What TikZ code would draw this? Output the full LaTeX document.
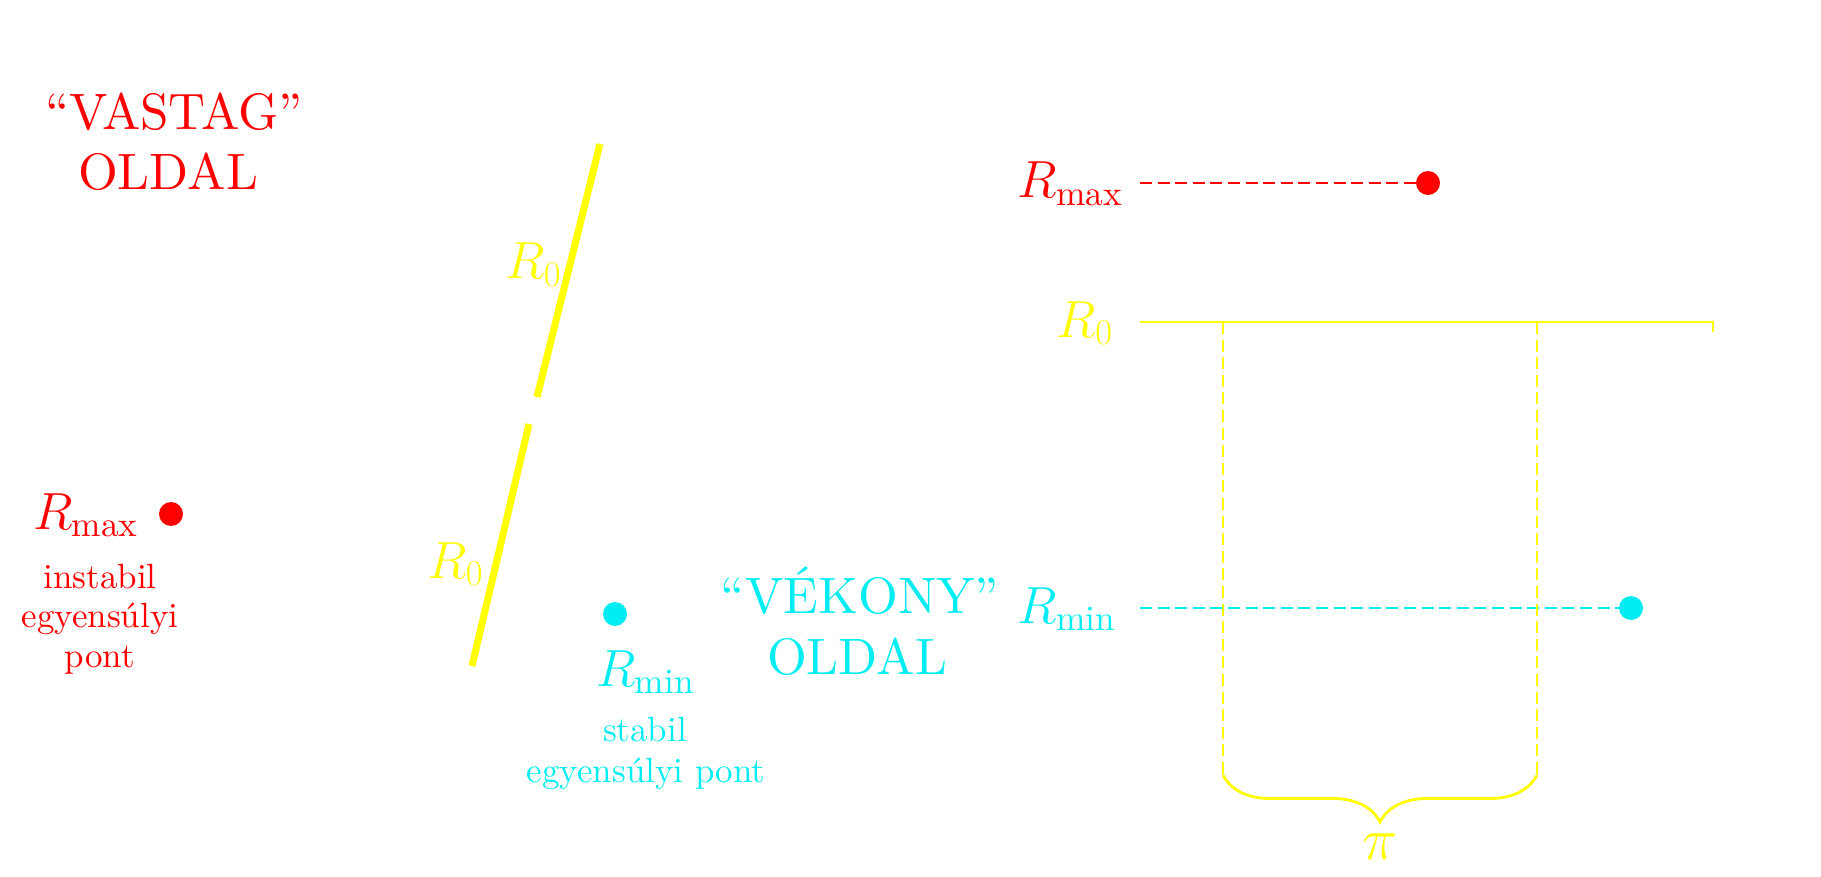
\documentclass[tikz,border=0pt]{standalone}
\usepackage{fontspec}
\setmainfont{lmroman10-regular.otf}
\usetikzlibrary{decorations.pathreplacing}
\definecolor{cred}{RGB}{255,0,0}
\definecolor{cyel}{RGB}{255,255,0}
\definecolor{ccyan}{RGB}{0,238,242}
\newcommand{\mlabtxt}[1]{\scalebox{1.05}{$#1$}}
\begin{document}
\begin{tikzpicture}[x=0.5pt,y=-0.5pt,
  every node/.style={inner sep=0pt, outer sep=0pt},
  title/.style={font=\fontsize{25.6}{30}\selectfont, anchor=base},
  mlabel/.style={font=\fontsize{24}{29}\selectfont},
  small/.style={font=\fontsize{17.5}{20.5}\selectfont, anchor=base},
  dot/.style={circle, fill, minimum size=12pt},
  guide/.style={dash pattern=on 6pt off 2.8pt, line width=1.3pt},
  bar/.style={cyel, line width=3.5pt},
]
\useasboundingbox (0,0) rectangle (1821,877);

% titles
\node[title, text=cred] (vastag) at (174,130) {“VASTAG”};
\node[title, text=cred] (oldalL) at (168,190) {OLDAL};
\node[title, text=ccyan] (vekony) at (860,613) {“VÉKONY”};
\node[title, text=ccyan] (oldalR) at (857,674) {OLDAL};

% left R_max with dot
\node[mlabel, anchor=base west, text=cred] (rmaxL) at (33,529) {\mlabtxt{R_{\max}}};
\node[dot, fill=cred] (dotmaxL) at (171,514) {};
\node[small, text=cred] (instabil) at (100,588) {instabil};
\node[small, text=cred] (egyL) at (100,627) {egyensúlyi};
\node[small, text=cred] (pontL) at (100,667) {pont};

% slanted yellow bars
\coordinate (a1) at (600,144);
\coordinate (a2) at (537,397);
\coordinate (b1) at (529,424);
\coordinate (b2) at (472,666);
\draw[bar] (a1) -- (a2);
\draw[bar] (b1) -- (b2);
\node[mlabel, anchor=base west, text=cyel] (r0up) at (505,279) {\mlabtxt{R_0}};
\node[mlabel, anchor=base west, text=cyel] (r0low) at (427,578) {\mlabtxt{R_0}};

% left R_min with dot
\node[dot, fill=ccyan] (dotminL) at (615,614) {};
\node[mlabel, anchor=base west, text=ccyan] (rminL) at (596,686) {\mlabtxt{R_{\min}}};
\node[small, text=ccyan] (stabil) at (645,741) {stabil};
\node[small, text=ccyan] (egyR) at (646,782) {egyensúlyi pont};

% right diagram
\node[mlabel, anchor=base east, text=cred] (rmaxR) at (1123,198) {\mlabtxt{R_{\max}}};
\node[mlabel, anchor=base east, text=cyel] (r0R) at (1113,337) {\mlabtxt{R_0}};
\node[mlabel, anchor=base east, text=ccyan] (rminR) at (1116,623) {\mlabtxt{R_{\min}}};

\node[dot, fill=cred] (dotmaxR) at (1428,183) {};
\node[dot, fill=ccyan] (dotminR) at (1631,608) {};
\coordinate (smax) at (1140,183);
\coordinate (smin) at (1140,608);
\draw[guide, cred] (smax) -- (dotmaxR.west);
\draw[guide, ccyan] (smin) -- (dotminR.west);

\coordinate (r0s) at (1140,322);
\coordinate (r0e) at (1713,322);
\coordinate (r0t) at (1713,332);
\draw[cyel, line width=1.3pt] (r0s) -- (r0e) -- (r0t);

\coordinate (v1t) at (1223,322);
\coordinate (v1b) at (1223,777);
\coordinate (v2t) at (1537,322);
\coordinate (v2b) at (1537,777);
\draw[guide, cyel] (v1t) -- (v1b);
\draw[guide, cyel] (v2t) -- (v2b);

\coordinate (br1) at (1537,775);
\coordinate (br2) at (1223,775);
\draw[cyel, line width=1.4pt, decorate, decoration={brace, amplitude=23.5pt}] (br1) -- (br2);
\node[font=\fontsize{24}{29}\selectfont, text=cyel] (pi) at (1380,847) {\scalebox{1.2}{$\pi$}};
\end{tikzpicture}
\end{document}
